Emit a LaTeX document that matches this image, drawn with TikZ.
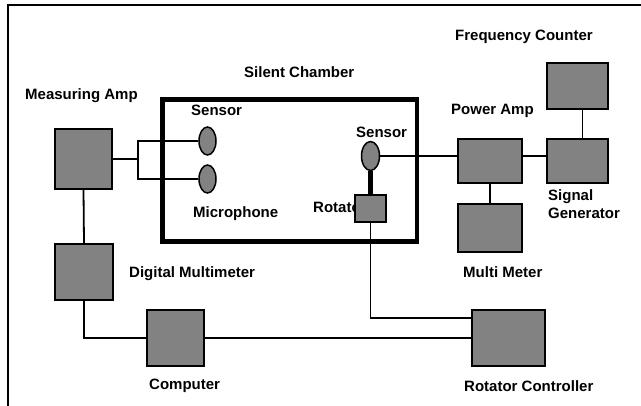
\documentclass[tikz,border=0pt]{standalone}
\usepackage{fontspec}
\setmainfont{Liberation Sans}
\usetikzlibrary{shapes.geometric}
\begin{document}
\begin{tikzpicture}[x=1pt,y=-1pt,
  dev/.style={draw=black,line width=1.8pt,fill={rgb,255:red,130;green,130;blue,130},inner sep=0pt,rectangle},
  sens/.style={draw=black,line width=1.5pt,fill={rgb,255:red,130;green,130;blue,130},ellipse,inner sep=0pt,minimum width=17pt,minimum height=28pt},
  lbl/.style={anchor=base west,inner sep=0pt,font=\fontsize{15}{17}\selectfont\bfseries},
  wire/.style={line width=1.8pt}]
\useasboundingbox (0,0) rectangle (641,406);
% outer frame
\draw[line width=1.8pt] (8,406) -- (8,5) -- (641,5);
% chamber
\draw[line width=4.5pt] (162.5,99.5) rectangle (417,241.5);
% labels
\node[lbl] (tma) at (25,100) {Measuring Amp};
\node[lbl] (tsc) at (244,78) {Silent Chamber};
\node[lbl] (tfc) at (455,41) {Frequency Counter};
\node[lbl] (ts1) at (191,116) {Sensor};
\node[lbl] (tpa) at (451,115) {Power Amp};
\node[lbl] (ts3) at (356,138) {Sensor};
\node[lbl] (tsg) at (548,201) {Signal};
\node[lbl] (tsg2) at (548,219) {Generator};
\node[lbl] (tmic) at (193,218) {Microphone};
\node[lbl] (trot) at (313,213) {Rotator};
\node[lbl] (tdmm) at (129,278) {Digital Multimeter};
\node[lbl] (tmm) at (463,278) {Multi Meter};
\node[lbl] (tcomp) at (149,390) {Computer};
\node[lbl] (trc) at (464,392) {Rotator Controller};
% devices
\node[dev,minimum width=57pt,minimum height=60pt] (ma) at (83.5,159) {};
\node[dev,minimum width=58pt,minimum height=56pt] (dmm) at (84,272) {};
\node[dev,minimum width=57pt,minimum height=56pt] (comp) at (175.5,338) {};
\node[dev,minimum width=73pt,minimum height=56pt] (rc) at (508.5,338) {};
\node[dev,minimum width=64pt,minimum height=44pt] (pa) at (490,161) {};
\node[dev,minimum width=61pt,minimum height=44pt] (sg) at (577.5,161) {};
\node[dev,minimum width=61pt,minimum height=46pt] (fc) at (577.5,86) {};
\node[dev,minimum width=64pt,minimum height=48pt] (mm) at (490,228) {};
\node[dev,minimum width=31pt,minimum height=27pt] (rot) at (370.5,208.5) {};
% sensors
\node[sens] (s1) at (207.5,141) {};
\node[sens] (s2) at (207.5,179) {};
\node[sens,minimum width=18pt,minimum height=29pt] (s3) at (370.5,156) {};
% connectors
\coordinate (fk) at (138,159);
\draw[wire] (ma.east) -- (fk);
\draw[wire] (s1.west) -| (fk);
\draw[wire] (s2.west) -| (fk);
\draw[wire] (ma.south) -- (dmm.north);
\draw[wire] (dmm.south) |- (comp.west);
\draw[wire] (comp.east) -- (rc.west);
\draw[wire] (rot.south) |- ([yshift=20pt]rc.west);
\draw[line width=5pt] (s3.south) -- (rot.north);
\draw[wire] (s3.east) -- (pa.west |- s3);
\draw[wire] (pa.east |- s3) -- (sg.west |- s3);
\draw[wire] ([xshift=5pt]sg.north) -- ([xshift=5pt]fc.south);
\draw[wire] (pa.south) -- (mm.north);
\end{tikzpicture}
\end{document}
